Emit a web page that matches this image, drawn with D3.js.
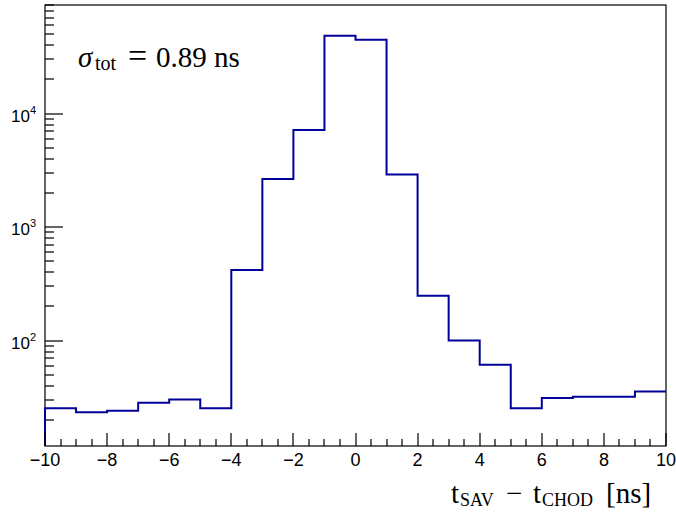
<!DOCTYPE html>
<html>
<head>
<meta charset="utf-8">
<script src="https://cdn.jsdelivr.net/npm/d3@7"></script>
</head>
<body style="margin:0">
<div id="chart-area"></div>
<script>
/*
*    histogram of t_SAV - t_CHOD, log y
*/

// bin edges (lower) and counts
var binLow = [-10, -9, -8, -7, -6, -5, -4, -3, -2, -1, 0, 1, 2, 3, 4, 5, 6, 7, 8, 9];
var counts = [25.3, 23.3, 24.1, 28.3, 30.3, 25.3, 418, 2650, 7160, 48400,
              44700, 2910, 248, 100, 61.2, 25.3, 31.1, 32.0, 32.0, 35.6];
var binWidth = 1;

var xTicks = [-10, -8, -6, -4, -2, 0, 2, 4, 6, 8, 10];
var yDecades = [100, 1000, 10000];
var sigmaText = "0.89 ns";

var W = 676, H = 512;
var padL = 45, padR = 666, padT = 5, padB = 446;
var col = "#000099";

var svg = d3.select("#chart-area").append("svg")
    .attr("width", W)
    .attr("height", H);

//  scales

var x = d3.scaleLinear()
    .domain([-10, 10])
    .range([padL, padR]);

var y = d3.scaleLog()
    .domain([11.77, 90400])
    .range([padB, padT]);

//  frame

svg.append("rect")
    .attr("x", padL)
    .attr("y", padT)
    .attr("width", padR - padL)
    .attr("height", padB - padT)
    .attr("fill", "none")
    .attr("stroke", "#000")
    .attr("stroke-width", 1.2);

//  histogram line

var pts = [[x(binLow[0]), padB]];
binLow.forEach((b, i) => {
    pts.push([x(b), y(counts[i])]);
    pts.push([x(b + binWidth), y(counts[i])]);
});

svg.append("path")
    .attr("d", d3.line()(pts))
    .attr("fill", "none")
    .attr("stroke", col)
    .attr("stroke-width", 2);

//  tick labels

svg.selectAll(".xl")
    .data(xTicks)
    .enter()
    .append("text")
    .attr("x", (d) => x(d))
    .attr("y", 466)
    .attr("text-anchor", "middle")
    .attr("font-family", "Liberation Sans, Arial, sans-serif")
    .attr("font-size", 18)
    .text((d) => d < 0 ? "\u2212" + Math.abs(d) : d);

var yl = svg.selectAll(".yl")
    .data(yDecades)
    .enter()
    .append("text")
    .attr("x", 11)
    .attr("y", (d) => y(d) + 8)
    .attr("font-family", "Liberation Sans, Arial, sans-serif")
    .attr("font-size", 17);
yl.append("tspan").text("10");
yl.append("tspan")
    .attr("font-size", 11)
    .attr("dy", -8)
    .text((d) => Math.round(Math.log10(d)));

//  texts

var serif = "Liberation Serif, Times New Roman, serif";

var xt = svg.append("text")
    .attr("y", 503)
    .attr("font-family", serif)
    .attr("font-size", 29);
xt.append("tspan").attr("x", 451).text("t");
xt.append("tspan").attr("x", 460).attr("font-size", 18).attr("dy", 3).text("SAV");
xt.append("tspan").attr("x", 506).attr("dy", -3).text("\u2212");
xt.append("tspan").attr("x", 533).text("t");
xt.append("tspan").attr("x", 542).attr("font-size", 18).attr("dy", 3).text("CHOD");
xt.append("tspan").attr("x", 606).attr("dy", -3).text("[ns]");

var st = svg.append("text")
    .attr("y", 67)
    .attr("font-family", serif)
    .attr("font-size", 29);
st.append("tspan").attr("x", 78).attr("font-style", "italic").text("\u03c3");
st.append("tspan").attr("x", 95).attr("font-size", 20).attr("dy", 3).text("tot");
st.append("tspan").attr("x", 128).attr("dy", -3).attr("font-size", 34).text("=");
st.append("tspan").attr("x", 156).text(sigmaText);

//  ticks as small filled rects, drawn last

var xMinor = d3.range(-10, 10.01, 0.5);
var yTickVals = [];
[10, 100, 1000, 10000].forEach((e) => {
    for (var m = 1; m <= 9; m++) {
        var v = m * e;
        if (v >= y.domain()[0] && v <= y.domain()[1]) yTickVals.push(v);
    }
});

svg.selectAll(".xtick")
    .data(xMinor)
    .enter()
    .append("rect")
    .attr("class", "xtick")
    .attr("x", (d) => Math.round(x(d)) - 0.6)
    .attr("y", (d) => padB - (xTicks.indexOf(d) >= 0 ? 13 : 7))
    .attr("width", 1.2)
    .attr("height", (d) => xTicks.indexOf(d) >= 0 ? 13 : 7)
    .attr("fill", "#000");

svg.selectAll(".ytick")
    .data(yTickVals)
    .enter()
    .append("rect")
    .attr("class", "ytick")
    .attr("x", padL)
    .attr("y", (d) => Math.round(y(d)) - 0.6)
    .attr("width", (d) => yDecades.indexOf(d) >= 0 ? 18 : 9)
    .attr("height", 1.2)
    .attr("fill", "#000");

</script>
</body>
</html>
